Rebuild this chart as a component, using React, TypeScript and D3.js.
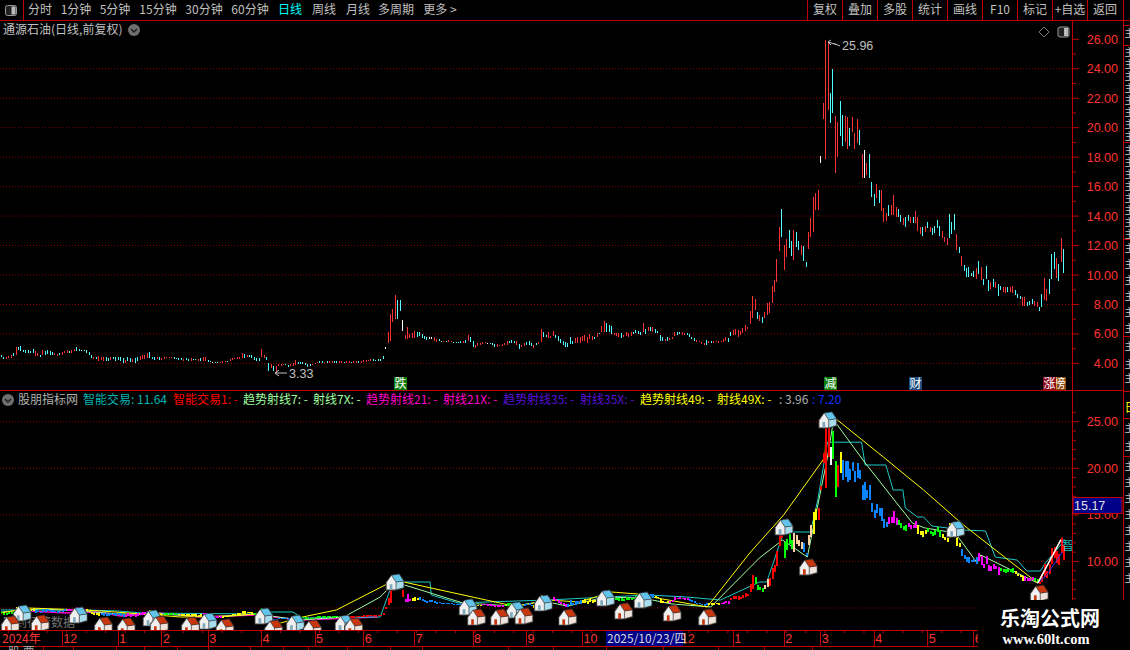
import * as d3 from 'd3';

const priceTicks = [26, 24, 22, 20, 18, 16, 14, 12, 10, 8, 6, 4];
const lowerTicks = [25, 20, 15, 10];

const barHighs = [
  4.59, 4.45, 4.41, 4.52, 4.59, 4.68, 5.09, 5.14, 5.20, 4.93,
  4.91, 4.91, 4.86, 4.98, 4.82, 4.68, 4.59, 4.91, 4.86, 4.91,
  4.82, 4.77, 4.68, 4.64, 4.73, 4.77, 4.86, 4.93, 4.86, 4.91,
  4.95, 5.09, 4.98, 4.93, 4.93, 4.91, 4.77, 4.59, 4.45, 4.45,
  4.48, 4.45, 4.45, 4.45, 4.36, 4.41, 4.41, 4.45, 4.45, 4.45,
  4.34, 4.23, 4.41, 4.36, 4.27, 4.36, 4.41, 4.50, 4.55, 4.59,
  4.73, 4.75, 4.45, 4.41, 4.41, 4.41, 4.36, 4.41, 4.43, 4.43,
  4.45, 4.41, 4.39, 4.36, 4.34, 4.32, 4.34, 4.32, 4.34, 4.32,
  4.32, 4.30, 4.36, 4.45, 4.45, 4.23, 4.18, 4.11, 4.11, 4.11,
  4.11, 4.14, 4.16, 4.18, 4.27, 4.36, 4.36, 4.41, 4.45, 4.73,
  4.64, 4.59, 4.59, 4.55, 4.45, 4.36, 4.36, 5.00, 4.59, 4.45,
  4.00, 3.95, 3.84, 3.84, 3.95, 3.93, 3.95, 3.98, 3.91, 3.95,
  4.00, 4.23, 4.09, 4.07, 4.07, 4.00, 3.95, 3.95, 3.95, 4.05,
  4.09, 4.14, 4.16, 4.11, 4.14, 4.16, 4.14, 4.14, 4.16, 4.16,
  4.14, 4.11, 4.16, 4.14, 4.09, 4.14, 4.16, 4.16, 4.18, 4.23,
  4.23, 4.25, 4.27, 4.27, 4.23, 4.27, 4.27, 4.50, 5.09, 6.11,
  7.36, 7.70, 8.61, 8.27, 8.27,
  6.95, 5.95, 6.50, 6.00, 6.05, 6.23, 6.11, 6.16, 6.00, 5.89,
  5.77, 5.82, 5.82, 5.77, 5.66, 5.66, 5.55, 5.55, 5.55, 5.59,
  5.55, 5.48, 5.48, 5.48, 5.50, 5.50, 5.59, 5.95, 5.82, 5.50,
  5.27, 5.36, 5.36, 5.45, 5.43, 5.41, 5.41, 5.36, 5.32, 5.32,
  5.27, 5.32, 5.36, 5.55, 5.50, 5.59, 5.55, 5.50, 5.32, 5.27,
  5.41, 5.45, 5.55, 5.36, 5.27, 5.41, 5.45, 6.36, 6.16, 5.95,
  6.14, 5.86, 6.23, 5.95, 5.89, 5.64, 5.55, 5.45, 5.40, 5.82,
  5.55, 5.73, 5.77, 5.82, 5.89, 5.95, 5.77, 6.00, 5.89, 5.82,
  6.09, 6.07, 6.57, 6.91, 6.75, 6.61, 6.57, 6.05, 6.05, 6.05,
  6.05, 5.93, 6.16, 6.05, 6.11, 6.11, 6.27, 6.18, 6.11, 6.73,
  6.34, 6.50, 6.45, 6.45, 6.34, 6.23, 5.95, 5.77, 5.66, 5.77,
  5.73, 5.82, 6.16, 6.11, 6.14, 6.11, 6.05, 6.05, 6.00, 5.82,
  5.73, 5.59, 5.55, 5.45, 5.41, 5.59, 5.50, 5.55, 5.50, 5.55,
  5.52, 5.55, 5.64, 5.77, 5.73, 6.11, 6.25, 6.34, 6.27, 6.18,
  6.40, 6.64, 6.50, 7.59,
  8.57, 8.36, 7.48, 7.27, 7.18, 7.50, 8.07, 8.18, 9.25, 9.66,
  11.07, 13.25, 14.48, 12.05, 12.43, 13.07, 12.32, 13.07, 12.89, 12.32,
  12.05, 11.98, 10.89, 12.89, 13.90, 15.32, 15.60, 15.78, 18.08, 21.66,
  25.96, 25.90, 22.33, 23.96, 20.80, 20.40, 21.80, 20.86, 20.80, 20.75,
  19.96, 20.70, 19.66, 20.57, 19.85, 18.20, 18.50, 17.63, 18.20, 16.30,
  15.50, 16.18, 15.77, 15.77, 14.53, 14.20, 14.76, 14.76, 15.43, 14.64,
  14.46, 14.10, 13.85, 13.92, 14.08, 13.96, 13.96, 14.35, 13.96, 13.24,
  13.29, 13.33, 13.62, 13.29, 13.17, 13.33, 13.74, 13.33, 12.99, 12.60,
  12.49, 14.14, 13.62, 14.14, 12.79, 11.93, 11.30, 10.66, 10.48, 10.52,
  10.16, 10.30, 10.45, 10.95, 10.57, 9.70, 10.61, 9.66, 9.55, 9.70,
  9.55, 9.39, 9.25, 9.20, 9.16, 9.16, 9.20, 9.25, 8.98, 8.70,
  8.57, 8.48, 8.48, 8.18, 8.23, 8.34, 8.23, 8.16, 7.84, 8.68,
  9.77, 9.02, 9.70, 11.43, 11.55, 11.14, 10.75, 12.50, 11.75,
];

const barLows = [
  4.41, 4.27, 4.27, 4.36, 4.36, 4.50, 4.59, 4.91, 4.86, 4.75,
  4.68, 4.73, 4.68, 4.68, 4.50, 4.52, 4.45, 4.59, 4.59, 4.64,
  4.59, 4.59, 4.55, 4.50, 4.55, 4.59, 4.68, 4.73, 4.73, 4.68,
  4.82, 4.86, 4.82, 4.82, 4.82, 4.73, 4.59, 4.36, 4.32, 4.30,
  4.18, 4.23, 4.18, 4.18, 4.18, 4.23, 4.27, 4.18, 4.23, 4.18,
  4.00, 4.02, 4.14, 4.07, 4.09, 4.05, 4.18, 4.23, 4.27, 4.32,
  4.36, 4.36, 4.27, 4.23, 4.27, 4.23, 4.23, 4.30, 4.34, 4.34,
  4.36, 4.32, 4.27, 4.23, 4.23, 4.18, 4.23, 4.18, 4.18, 4.23,
  4.23, 4.18, 4.18, 4.18, 4.18, 4.09, 4.07, 4.05, 4.05, 4.05,
  4.02, 4.02, 4.07, 4.07, 4.14, 4.23, 4.27, 4.27, 4.32, 4.36,
  4.36, 4.41, 4.45, 4.36, 4.23, 4.18, 4.18, 4.45, 4.36, 4.25,
  3.50, 3.68, 3.50, 3.33, 3.82, 3.84, 3.86, 3.86, 3.73, 3.84,
  3.82, 3.86, 3.95, 3.95, 3.93, 3.91, 3.77, 3.82, 3.86, 3.95,
  4.00, 4.00, 4.02, 4.00, 4.02, 4.05, 4.02, 4.05, 4.05, 4.05,
  4.02, 4.02, 4.02, 4.02, 4.00, 4.02, 4.05, 4.05, 4.05, 4.09,
  4.09, 4.14, 4.14, 4.14, 4.14, 4.16, 4.18, 4.27, 4.95, 5.36,
  5.55, 6.80, 7.02, 7.02, 7.59,
  6.18, 5.64, 5.66, 5.73, 5.70, 5.73, 5.82, 5.89, 5.75, 5.66,
  5.59, 5.64, 5.64, 5.55, 5.43, 5.50, 5.43, 5.45, 5.45, 5.48,
  5.45, 5.39, 5.36, 5.36, 5.41, 5.41, 5.41, 5.55, 5.43, 5.14,
  5.05, 5.18, 5.25, 5.32, 5.36, 5.36, 5.32, 5.23, 5.14, 5.14,
  5.16, 5.18, 5.23, 5.23, 5.41, 5.41, 5.41, 5.23, 5.00, 5.09,
  5.18, 5.27, 5.27, 5.18, 5.05, 5.27, 5.32, 5.48, 5.82, 5.77,
  5.73, 5.73, 5.89, 5.72, 5.55, 5.41, 5.27, 5.14, 5.10, 5.32,
  5.32, 5.36, 5.39, 5.41, 5.55, 5.55, 5.41, 5.64, 5.59, 5.64,
  5.77, 6.00, 6.11, 6.11, 6.15, 6.11, 6.00, 5.91, 5.89, 5.77,
  5.73, 5.82, 5.86, 5.82, 5.89, 6.00, 6.09, 6.00, 5.95, 6.11,
  6.00, 6.18, 6.23, 6.11, 6.05, 6.05, 5.55, 5.50, 5.55, 5.55,
  5.59, 5.66, 5.86, 5.95, 6.00, 5.95, 5.91, 5.91, 5.77, 5.66,
  5.50, 5.45, 5.43, 5.32, 5.23, 5.27, 5.36, 5.36, 5.36, 5.43,
  5.40, 5.43, 5.45, 5.50, 5.45, 5.89, 5.92, 5.95, 5.82, 5.95,
  6.05, 6.23, 6.36, 6.68,
  7.09, 7.61, 6.98, 6.89, 6.73, 7.05, 7.27, 7.39, 8.07, 8.86,
  9.55, 11.66, 12.55, 10.34, 11.20, 11.82, 11.30, 11.02, 11.89, 11.70,
  11.36, 10.98, 10.57, 11.77, 12.60, 12.95, 14.40, 14.40, 17.63, 20.60,
  17.85, 21.20, 20.30, 20.98, 16.95, 18.00, 19.44, 18.76, 19.05, 18.53,
  18.76, 19.73, 18.53, 18.94, 18.83, 16.57, 16.57, 16.80, 16.57, 15.30,
  14.70, 15.25, 14.90, 14.35, 13.62, 13.70, 14.00, 14.08, 14.08, 13.96,
  13.96, 13.60, 13.40, 13.28, 13.70, 13.50, 13.56, 13.56, 12.97, 12.79,
  12.67, 12.95, 13.17, 12.95, 12.72, 12.83, 13.17, 12.67, 12.49, 12.27,
  12.04, 12.49, 12.79, 13.06, 11.70, 11.52, 10.60, 10.30, 9.89, 9.84,
  9.93, 9.89, 9.75, 10.07, 9.66, 9.32, 9.75, 8.93, 9.02, 9.20,
  9.15, 8.57, 8.98, 8.86, 8.80, 8.84, 8.85, 8.80, 8.64, 8.43,
  8.34, 7.93, 7.89, 7.91, 7.95, 8.02, 7.93, 7.84, 7.55, 7.84,
  8.30, 8.25, 8.70, 9.75, 10.41, 9.80, 9.59, 10.91, 10.11,
];

const barTones = [
  'ccrrrcrccc', 'ccccrrcrcc', 'ccrrcrrrcr', 'rcccccccrc', 'rrrccrcccc',
  'crccrccrrr', 'rcccrcrrrr', 'rccccrccrc', 'crcrrccwcc', 'rrrcrrrrrr',
  'crcccccrrc', 'crcrrrrccr', 'rrccccccrr', 'rccrcrrccr', 'rcrrcrrcrr',
  'rrrcccccwr', 'rrrcc',
  'wrrrrrcccc', 'cwwrrccrcr', 'rccccrcrcc', 'rrrrrwcccr', 'rrrrcccrcr',
  'rcccrcrrcc', 'rrrccccccc', 'crrrrrrrrc', 'rcrrcccrrr', 'crrrrccccr',
  'crcrccccrc', 'rrrccrrccc', 'crrrrcrcrr', 'rrrrccrrrr', 'rrrr',
  'rrcrcrrrrr', 'rrcrrccrcc', 'rccrrrrrwr', 'rrccrrccrr', 'crrrcrwrcc',
  'crcrrrcrrr', 'ccrccrcrrr', 'crcrccccrr', 'rcccrcrccc', 'ccrcrcccrc',
  'rccrrcrrcc', 'crrcccrrcc', 'rrcccrcrcc', 'ccrrrrrrr',
].join('');

// colours of the indicator candles in the lower pane, run by run
const toneEnds = [
  5, 13, 26, 34, 40, 50, 60, 66, 72, 82, 90, 103, 107, 120, 128, 140, 165, 168, 171, 192,
  197, 206, 214, 218, 224, 232, 238, 246, 250, 262, 268, 274, 282, 290, 295, 299, 309, 313,
  315, 321, 325, 329, 331, 333, 335, 340, 341, 343, 344, 345, 364, 368, 372, 376, 380, 386,
  394, 401, 410, 416, 420, 424, 426, 437,
];
const toneCodes = [
  'g', 'y', 'b', 'm', 'y', 'b', 'm', 'y', 'g', 'y', 'm', 'y', 'g', 'b', 'g', 'g', 'r', 'm', 'y', 'b',
  'y', 'm', 'g', 'b', 'y', 'm', 'b', 'y', 'm', 'g', 'b', 'y', 'm', 'b', 'y', 'm', 'r', 'g',
  'w', 'r', 'g', 'w', 'b', 'w', 'y', 'r', 'W', 'g', 'r', 'y', 'b', 'm', 'g', 'm', 'y', 'g',
  'y', 'b', 'm', 'g', 'y', 'm', 'g', 'r',
];

const ray49Bars = [0, 11, 35, 58, 74, 95, 105, 115, 124, 138, 162, 209, 215, 225, 238, 251, 262, 270, 290.5, 308, 322, 339, 339.5, 344, 363, 379.5, 396, 426.5];
const ray49Vals = [4.46, 5.0, 4.79, 4.36, 4.03, 4.14, 4.36, 3.39, 4.03, 4.79, 8.0, 5.32, 5.32, 5.86, 5.64, 6.72, 6.5, 6.07, 5.11, 10.9, 15.0, 21.2, 25.9, 25.2, 21.2, 17.67, 13.9, 7.68];
const ray7Bars = [0, 16, 32, 49, 65, 86, 105, 123, 141, 156, 162, 190, 211.5, 223, 233, 248.6, 264, 276, 292, 312, 321.5, 331.7, 340, 342.5, 355.5, 375, 380, 392.5, 401.6, 403, 426.5, 436];
const ray7Vals = [4.57, 4.9, 4.68, 4.36, 4.36, 4.03, 4.36, 3.71, 4.03, 6.18, 7.79, 5.54, 5.2, 5.75, 5.2, 6.18, 6.07, 5.43, 5.11, 10.37, 12.3, 10.47, 21.2, 25.2, 20.57, 14.1, 13.6, 13.05, 9.83, 10.69, 7.68, 12.4];
const ray21Bars = [0, 34, 48, 58, 104, 111, 120, 124, 156, 160, 162, 176.5, 177, 188, 225, 266, 282, 296, 312, 315, 322, 333, 336, 340, 354, 355.5, 364, 367, 371, 372, 377, 379.5, 383, 396, 405, 409, 418, 422, 427.6, 429.6, 436.6];
const ray21Vals = [4.79, 4.79, 4.68, 4.46, 4.36, 4.57, 4.57, 3.93, 4.03, 6.93, 7.79, 7.79, 6.4, 5.54, 5.86, 6.4, 6.18, 5.86, 7.79, 7.79, 13.16, 13.16, 16.6, 22.8, 22.8, 20.35, 20.35, 17.67, 17.67, 15.74, 14.77, 14.77, 13.8, 13.37, 13.27, 10.47, 10.15, 8.97, 8.97, 9.83, 11.98];
const ray35Bars = [11, 27, 40, 49, 65, 82, 105, 123, 155];
const ray35Vals = [4.68, 4.46, 4.57, 4.14, 4.46, 4.03, 4.25, 3.71, 4.03];
const tailBlueBars = [426.5, 430, 436.6];
const tailBlueVals = [7.68, 8.5, 11];
const tailWhiteBars = [426.5, 436];
const tailWhiteVals = [7.68, 12.3];
const tailRedBars = [427, 436.6];
const tailRedVals = [8, 12.6];

const peakHouseBars = [8.6, 31.7, 62, 85, 108, 121, 141, 162, 192, 211.5, 223, 248.6, 264, 322, 340, 392.6];
const peakHouseVals = [4.46, 4.25, 3.93, 3.6, 4.14, 3.39, 3.39, 7.79, 5.11, 4.79, 5.54, 6.07, 5.86, 13.7, 25.2, 13.48];
const troughHouseBars = [3.7, 16, 42, 51.4, 65, 77.8, 92, 112, 128, 145, 195.5, 205, 215, 233, 256, 276, 290.5, 332, 427];
const troughHouseVals = [3.28, 3.39, 3.17, 3.07, 3.28, 3.17, 2.96, 2.85, 2.85, 3.07, 4.03, 4.03, 4.14, 4.03, 4.68, 4.46, 4.03, 9.4, 6.6];

const monthLabels = ['12', '1', '2', '3', '4', '5', '6', '7', '8', '9', '10', '12', '1', '2', '3', '4', '5', '6'];
const monthBars = [25, 48, 66, 85, 107, 129, 149, 170, 194, 216, 239, 279, 301, 322, 337, 359, 381, 400];

const periodTabs = ['分时', '1分钟', '5分钟', '15分钟', '30分钟', '60分钟', '日线', '周线', '月线', '多周期', '更多 >'];
const periodCenters = [40, 76, 115, 158, 204, 250, 290, 324, 358, 396, 440];
const toolButtons = ['复权', '叠加', '多股', '统计', '画线', 'F10', '标记', '+自选', '返回'];

const legendNames = ['股朋指标网', '智能交易: 11.64', '智能交易1: -', '趋势射线7: -', '射线7X: -', '趋势射线21: -', '射线21X: -', '趋势射线35: -', '射线35X: -', '趋势射线49: -', '射线49X: -', ': 3.96', ': 7.20'];
const legendLefts = [18, 83, 173, 243, 313, 366, 443, 503, 580, 640, 717, 779, 812];
const legendColors = ['#b0b0b0', '#00b4b4', '#ff0000', '#a0ffa0', '#a0ffa0', '#ff00c8', '#ff00c8', '#5a10d8', '#5a10d8', '#ffff00', '#ffff00', '#b0b0b0', '#1030ff'];

const sideRowTops = [37, 56, 68, 80, 92, 104, 116, 128, 140, 154, 166, 178, 190, 202, 214, 226, 238, 252, 268, 284, 300, 316, 332, 350, 368, 382, 432, 450, 470, 486, 502, 518, 534, 550, 566, 582];
const sideBreaks = [25, 45, 142, 239, 336, 391, 418, 456];
const footerTicks = [43, 73, 116, 144, 177, 208, 250, 283, 308, 347, 390, 422, 508, 553, 606, 663, 718, 764, 812];

const RED = '#c00000';
const GRID = '#8c0000';
const TEXT = '#c0c0c0';
const TICK = '#ff3333';
const CJK = '"Noto Sans CJK SC", "Liberation Sans", sans-serif';
const NUM = '"Liberation Sans", "Noto Sans CJK SC", sans-serif';

const topColor: Record<string, string> = { r: '#ff3232', c: '#54ffff', w: '#ffffff' };
const lowerColor: Record<string, string> = {
  r: '#ff0000', b: '#0a84ff', y: '#ffff00', g: '#00ff00', m: '#ff00ff', w: '#ffd0a0', W: '#ffffff',
};

const barCount = barHighs.length;
const xBar = d3.scaleLinear().domain([0, 437]).range([1, 1063.3]);
const yTop = d3.scaleLinear().domain([4, 26]).range([363.4, 39.3]);
const yLow = d3.scaleLinear().domain([5, 25]).range([608, 421.7]);

const rayPath = (bars: number[], vals: number[]) =>
  d3.line<number>().x((b) => xBar(b)).y((_, i) => yLow(vals[i]))(bars) ?? '';

function toneAt(i: number) {
  const run = d3.bisectLeft(toneEnds, i);
  return lowerColor[toneCodes[Math.min(run, toneCodes.length - 1)]];
}

function House({ x, y, roof, side, door }: { x: number; y: number; roof: string; side: string; door: string }) {
  return (
    <g transform={`translate(${x},${y}) scale(1.12)`} stroke="#2a2a2a" strokeWidth={0.4}>
      <polygon points="-8,7.5 -8,0 -3,-6 4,-7.5 8.5,-1 8.5,5.5 1,7.5" fill="#333" />
      <polygon points="1,0 8,-1 8,5 1,7" fill={side} />
      <polygon points="-3,-6 4,-7 8,-1 1,0" fill={roof} />
      <polygon points="-7.5,0.5 -3,-6 1,0 1,7 -7.5,7" fill="#f0f0f0" />
      <rect x={-4.5} y={2} width={2.4} height={5} fill={door} stroke="none" />
    </g>
  );
}

function Chevron({ cx, cy }: { cx: number; cy: number }) {
  return (
    <g>
      <circle cx={cx} cy={cy} r={6} fill="#6e6e6e" />
      <path d={`M${cx - 3},${cy - 1}L${cx},${cy + 2}L${cx + 3},${cy - 1}`} fill="none" stroke="#1a1a1a" strokeWidth={1.4} />
    </g>
  );
}

function Badge({ x, w, fill, label }: { x: number; w: number; fill: string; label: string }) {
  return (
    <g>
      <rect x={x} y={377} width={w} height={13} fill={fill} />
      <text x={x + w / 2} y={388} textAnchor="middle" fontSize={12} fontFamily={CJK} fill="#fff">{label}</text>
    </g>
  );
}

export default function App() {
  const bars = d3.range(barCount);
  return (
    <svg width={1130} height={650} style={{ position: 'fixed', left: 0, top: 0, display: 'block', background: '#000' }}>
      <defs>
        <clipPath id="topPane"><rect x={0} y={21} width={1072} height={369} /></clipPath>
        <clipPath id="lowPane"><rect x={0} y={392} width={1072} height={238} /></clipPath>
      </defs>
      <rect width={1130} height={650} fill="#000" />

      {/* toolbar */}
      <line x1={0} x2={1130} y1={20.5} y2={20.5} stroke={RED} />
      <line x1={23.5} x2={23.5} y1={0} y2={20} stroke={RED} />
      <rect x={5.5} y={5.5} width={11} height={10} rx={2} fill="#222" stroke="#999" />
      <rect x={11.5} y={6.5} width={4} height={8} fill="#bbb" />
      {periodTabs.map((t, i) => (
        <text key={t} x={periodCenters[i]} y={14} textAnchor="middle" fontSize={12} fontFamily={CJK}
          fill={t === '日线' ? '#00ffff' : TEXT}>{t}</text>
      ))}
      {toolButtons.map((t, i) => (
        <g key={t}>
          <line x1={807.5 + i * 35} x2={807.5 + i * 35} y1={0} y2={20} stroke={RED} />
          <text x={825 + i * 35} y={14} textAnchor="middle" fontSize={12} fontFamily={CJK} fill={TEXT}>{t}</text>
        </g>
      ))}

      {/* price pane */}
      <text x={3} y={34} fontSize={12} fontFamily={CJK} fill={TEXT}>通源石油(日线,前复权)</text>
      <Chevron cx={134} cy={30} />
      <path d="M1044,27L1049,32L1044,37L1039,32Z" fill="none" stroke="#777" />
      <rect x={1058} y={27} width={11} height={10} rx={2} fill="#222" stroke="#999" />
      <rect x={1064} y={28} width={4} height={8} fill="#bbb" />
      {priceTicks.filter((v) => v < 26).map((v) => (
        <line key={v} x1={0} x2={1072} y1={yTop(v)} y2={yTop(v)} stroke={GRID} strokeDasharray="1 2" />
      ))}
      <g clipPath="url(#topPane)" shapeRendering="crispEdges">
        {bars.map((i) => (
          <rect key={i} x={Math.round(xBar(i))} y={yTop(barHighs[i])} width={1}
            height={Math.max(1, yTop(barLows[i]) - yTop(barHighs[i]))} fill={topColor[barTones[i]] ?? '#ff3232'} />
        ))}
      </g>
      <path d="M828,42L836,44.5M828,42L831,40M828,42L831,45M834,43.5L840,46" fill="none" stroke={TEXT} />
      <text x={842} y={50} fontSize={12.5} fontFamily={NUM} fill={TEXT}>25.96</text>
      <path d="M275,373H287M275,373L279,370M275,373L279,376" fill="none" stroke={TEXT} />
      <text x={289} y={378} fontSize={12.5} fontFamily={NUM} fill={TEXT}>3.33</text>
      <Badge x={394} w={13} fill="#0a7a0a" label="跌" />
      <Badge x={824} w={13} fill="#0a7a0a" label="减" />
      <Badge x={909} w={13} fill="#1c4f80" label="财" />
      <Badge x={1053} w={13} fill="#8a4a10" label="榜" />
      <Badge x={1043} w={13} fill="#8a0a1a" label="涨" />

      {/* indicator pane */}
      <line x1={0} x2={1123} y1={390.5} y2={390.5} stroke={RED} />
      <Chevron cx={8} cy={400} />
      {legendNames.map((t, i) => (
        <text key={t} x={legendLefts[i]} y={404} fontSize={12} fontFamily={CJK} fill={legendColors[i]}>{t}</text>
      ))}
      {[...lowerTicks, 5].map((v) => (
        <line key={v} x1={0} x2={1072} y1={yLow(v)} y2={yLow(v)} stroke={GRID} strokeDasharray="1 2" />
      ))}
      <text x={3} y={627} fontSize={12} fontFamily={CJK} fill="#777">回到行情数据</text>
      <g clipPath="url(#lowPane)">
        <path d={rayPath(ray35Bars, ray35Vals)} fill="none" stroke="#ff00c8" strokeWidth={1.4} />
        <path d={rayPath(ray21Bars, ray21Vals)} fill="none" stroke="#1fc8c8" />
        <path d={rayPath(ray7Bars, ray7Vals)} fill="none" stroke="#a0ffa0" />
        <path d={rayPath(ray49Bars, ray49Vals)} fill="none" stroke="#ffff00" />
        <g shapeRendering="crispEdges">
          {bars.map((i) => (
            <rect key={i} x={Math.round(xBar(i)) - 0.5} y={yLow(barHighs[i])} width={2}
              height={Math.max(1.5, yLow(barLows[i]) - yLow(barHighs[i]))} fill={toneAt(i)} />
          ))}
        </g>
        <path d={rayPath(tailRedBars, tailRedVals)} fill="none" stroke="#ff0000" />
        <path d={rayPath(tailBlueBars, tailBlueVals)} fill="none" stroke="#3030ff" />
        <path d={rayPath(tailWhiteBars, tailWhiteVals)} fill="none" stroke="#ffffff" strokeWidth={1.5} />
        <text x={1062} y={550} fontSize={12} fontFamily={CJK} fill="#18c0c0">智能</text>
        {peakHouseBars.map((b, i) => (
          <House key={b} x={xBar(b)} y={yLow(peakHouseVals[i])} roof="#62c4ea" side="#a9dcec" door="#7fa8bc" />
        ))}
        {troughHouseBars.map((b, i) => (
          <House key={b} x={xBar(b)} y={yLow(troughHouseVals[i])} roof="#c8360e" side="#efe2da" door="#c8360e" />
        ))}
      </g>

      {/* right axis */}
      <line x1={1072.5} x2={1072.5} y1={20} y2={600} stroke={RED} />
      <line x1={1123.5} x2={1123.5} y1={0} y2={600} stroke={RED} />
      {d3.range(4, 27).map((v) => (
        <line key={v} x1={1073} x2={v % 2 === 0 ? 1079 : 1076} y1={yTop(v)} y2={yTop(v)} stroke={RED} />
      ))}
      {priceTicks.map((v) => (
        <text key={v} x={1118} y={yTop(v) + 4.5} textAnchor="end" fontSize={12.5} fontFamily={NUM} fill={TICK}>{v.toFixed(2)}</text>
      ))}
      {d3.range(6, 27).map((v) => (
        <line key={v} x1={1073} x2={v % 5 === 0 ? 1079 : 1076} y1={yLow(v)} y2={yLow(v)} stroke={RED} />
      ))}
      {lowerTicks.map((v) => (
        <text key={v} x={1118} y={yLow(v) + 4.5} textAnchor="end" fontSize={12.5} fontFamily={NUM} fill={TICK}>{v.toFixed(2)}</text>
      ))}
      <rect x={1073} y={497.5} width={49} height={16} fill="#00008b" stroke={RED} />
      <text x={1074} y={510} fontSize={12.5} fontFamily={NUM} fill="#e0e0e0">15.17</text>

      {/* side column, mostly cut off by the window */}
      {sideBreaks.map((y) => (
        <line key={y} x1={1123} x2={1130} y1={y + 0.5} y2={y + 0.5} stroke={RED} />
      ))}
      {sideRowTops.map((y) => (
        <text key={y} x={1124.5} y={y} fontSize={10} fontFamily={CJK} fill="#c8c8c8">主力</text>
      ))}
      <text x={1124.5} y={412} fontSize={12} fontFamily={CJK} fill="#ffff00">日</text>

      {/* date axis */}
      <line x1={0} x2={978} y1={630.5} y2={630.5} stroke={RED} />
      <line x1={0} x2={978} y1={646.5} y2={646.5} stroke={RED} />
      {d3.range(3, barCount, 8).map((i) => (
        <line key={i} x1={xBar(i)} x2={xBar(i)} y1={630} y2={633} stroke={RED} />
      ))}
      {monthBars.map((b, i) => (
        <g key={b}>
          <line x1={Math.round(xBar(b)) + 0.5} x2={Math.round(xBar(b)) + 0.5} y1={630} y2={646} stroke={RED} />
          <text x={xBar(b) + 1.5} y={643} fontSize={12.5} fontFamily={NUM} fill={TICK}>{monthLabels[i]}</text>
        </g>
      ))}
      <text x={2} y={643} fontSize={12} fontFamily={CJK} fill={TICK}>2024年</text>
      <rect x={606} y={631} width={77} height={15} fill="#00008b" />
      <text x={607} y={643} fontSize={12} fontFamily={CJK} fill="#d8d8d8">2025/10/23/四</text>
      {footerTicks.map((x) => (
        <line key={x} x1={x + 0.5} x2={x + 0.5} y1={646} y2={650} stroke={RED} />
      ))}
      <text x={8} y={657} fontSize={12} fontFamily={CJK} fill="#b0b0b0">股 票</text>

      {/* watermark */}
      <rect x={978} y={600} width={152} height={50} fill="#000" />
      <text x={1050} y={626} textAnchor="middle" fontSize={20} fontWeight={700} fontFamily={CJK} fill="#fff">乐淘公式网</text>
      <text x={1046} y={644} textAnchor="middle" fontSize={14.5} fontWeight={700} fontFamily='"Liberation Serif", serif' fill="#fff">www.60lt.com</text>
    </svg>
  );
}
